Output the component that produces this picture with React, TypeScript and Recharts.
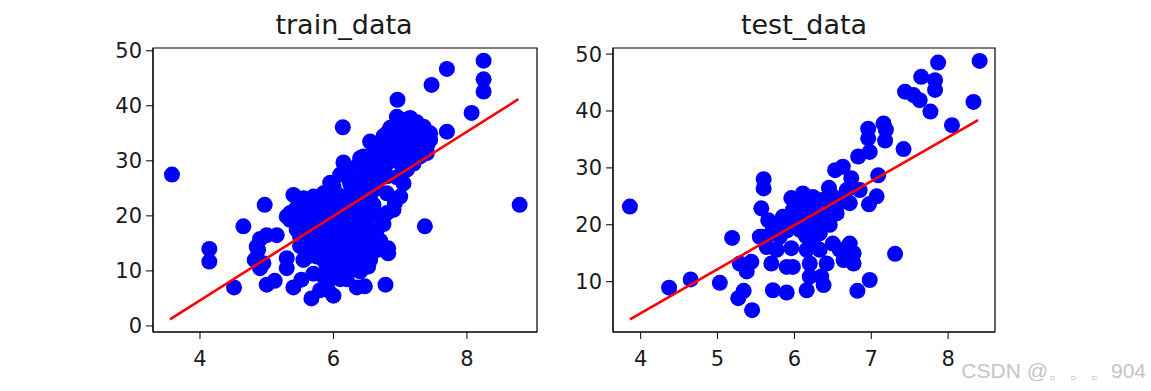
import { ReferenceArea, Scatter, ScatterChart, XAxis, YAxis } from 'recharts';

const trainX = [
  3.58, 8.79, 8.25, 8.25, 8.25, 7.7, 7.47, 8.07, 6.96, 7.7, 6.14, 7.37, 4.14, 4.14, 4.65, 4.97,
  4.51, 5.0, 5.12, 5.4, 5.52, 5.67, 6.0, 6.35, 6.47, 6.78, 5.4, 6.15, 4.9, 4.87, 4.9, 5.15,
  5.3, 5.3, 6.82, 6.82, 6.65, 7.0, 6.92, 5.35, 5.55, 5.97, 6.52, 6.4, 6.25, 5.92, 5.8, 4.95,
  4.82, 4.85, 5.0, 5.3, 7.15, 7.35, 7.45, 7.4, 7.0, 6.8, 6.6, 6.45, 6.35, 6.2, 6.0, 5.85,
  5.7, 5.55, 5.37, 5.35, 5.5, 5.65, 5.55, 5.75, 5.9, 6.1, 6.4, 6.65, 6.6, 6.7, 6.9, 7.05,
  7.1, 7.3, 7.2, 6.9, 6.7, 6.5, 6.3, 6.1, 5.9, 5.7, 6.0, 6.2, 6.4, 6.6, 6.8, 7.0,
  7.2, 7.1, 6.4, 6.2, 6.0, 5.8, 6.4, 6.55, 6.8, 6.15, 5.65, 5.5, 5.8, 5.6, 6.05, 6.25,
  6.5, 6.7, 6.85, 6.97, 7.25, 7.4, 7.35, 6.1, 6.3, 5.95, 6.05, 6.25, 6.45, 6.55, 6.65, 6.9,
  7.05, 6.75, 6.35, 6.55, 5.85, 6.05, 6.2, 5.6, 5.7, 5.75, 5.8, 5.85, 5.9, 5.95, 6.0, 6.0,
  6.05, 6.1, 6.1, 6.15, 6.2, 6.2, 6.25, 6.3, 6.3, 6.35, 6.4, 6.45, 6.5, 6.5, 6.6, 6.6,
  6.65, 6.7, 6.75, 6.8, 6.85, 6.9, 6.95, 7.0, 7.05, 7.1, 7.15, 7.2, 7.25, 5.75, 5.85, 5.9,
  6.0, 6.1, 6.3, 6.25, 6.45, 6.5, 6.35, 5.65, 5.6, 5.5, 5.45, 5.45, 5.5, 5.65, 5.95, 6.1,
  6.3, 6.4, 6.55, 6.75, 6.95, 7.3, 7.1, 7.45, 6.8, 6.75, 6.7, 6.6, 6.45, 5.7, 5.85, 6.1,
];
const trainY = [
  27.5, 22.0, 48.2, 44.8, 42.6, 46.7, 43.8, 38.7, 41.1, 35.3, 36.1, 18.1, 14.0, 11.7, 18.1, 22.0,
  7.0, 7.5, 8.2, 7.0, 8.4, 5.0, 5.5, 7.0, 7.2, 7.5, 23.8, 29.7, 15.8, 13.8, 10.5, 16.5,
  12.3, 10.5, 14.1, 13.2, 17.5, 23.5, 22.3, 20.5, 12.0, 8.7, 10.8, 9.9, 10.2, 6.5, 6.5, 11.4,
  12.0, 14.4, 16.5, 19.9, 37.8, 36.2, 33.8, 31.4, 37.1, 35.0, 32.6, 30.8, 29.0, 27.2, 25.3, 24.1,
  23.5, 23.2, 20.5, 19.3, 18.7, 16.9, 14.4, 12.6, 10.8, 11.4, 12.6, 13.8, 16.2, 19.9, 21.1, 25.9,
  28.4, 30.8, 33.2, 32.0, 30.2, 27.2, 24.7, 22.3, 19.9, 17.5, 17.5, 19.9, 22.3, 24.7, 27.2, 29.6,
  32.0, 35.0, 18.7, 15.0, 13.8, 15.0, 15.0, 21.1, 24.1, 12.6, 13.8, 16.2, 21.1, 20.5, 22.9, 25.9,
  29.0, 32.6, 33.8, 36.2, 35.6, 32.6, 33.8, 16.0, 17.0, 16.5, 19.0, 21.5, 20.0, 23.0, 26.0, 30.5,
  31.5, 28.5, 13.5, 12.0, 12.0, 10.0, 8.5, 19.0, 21.5, 19.5, 17.0, 18.5, 22.5, 14.0, 21.0, 15.5,
  24.0, 18.0, 20.5, 23.5, 17.5, 22.0, 19.0, 20.0, 26.5, 23.5, 25.0, 17.5, 19.5, 25.5, 22.0, 28.0,
  30.5, 27.0, 31.0, 29.5, 36.0, 34.5, 27.0, 33.0, 34.5, 30.0, 33.5, 29.5, 37.0, 14.0, 16.0, 13.0,
  12.0, 14.0, 11.5, 13.8, 14.0, 16.5, 16.0, 15.5, 12.5, 14.5, 17.5, 21.5, 22.0, 22.5, 26.0, 27.5,
  28.5, 30.5, 33.5, 34.5, 38.0, 35.0, 37.5, 35.0, 20.5, 18.5, 15.5, 14.5, 11.5, 9.5, 9.0, 8.5,
];

const testX = [
  3.86, 4.37, 4.65, 5.03, 5.19, 5.27, 5.34, 5.45, 5.38, 5.44, 5.29, 5.6, 5.6, 5.57, 5.59, 5.66,
  5.72, 5.9, 6.16, 6.38, 6.82, 6.98, 7.31, 5.7, 5.9, 5.98, 5.96, 6.2, 6.2, 6.42, 6.5, 6.59,
  6.72, 6.77, 6.77, 6.64, 6.33, 6.16, 5.96, 6.11, 6.24, 6.37, 6.5, 6.46, 6.33, 6.16, 5.98, 5.85,
  5.72, 5.55, 5.64, 5.81, 6.07, 6.24, 6.33, 6.53, 6.63, 6.74, 6.68, 6.85, 6.72, 6.83, 6.98, 6.96,
  6.96, 7.16, 7.19, 7.18, 7.42, 7.09, 7.07, 6.97, 8.05, 7.77, 7.44, 7.55, 7.63, 7.65, 7.83, 7.83,
  7.87, 8.33, 8.41, 6.35, 5.77, 6.05, 6.2, 6.3, 6.1, 6.4, 6.0, 5.9, 5.8, 6.15, 6.25, 6.5,
  6.6, 6.45, 6.55, 5.7, 6.35,
];
const testY = [
  23.2, 8.95, 10.4, 9.8, 17.7, 7.1, 8.4, 5.0, 11.8, 13.5, 13.2, 28.0, 26.4, 22.9, 17.9, 20.8,
  8.5, 8.1, 8.5, 9.4, 8.4, 10.3, 14.9, 13.2, 12.6, 12.6, 15.9, 10.9, 13.2, 13.2, 16.7, 15.6,
  16.7, 15.0, 13.2, 13.8, 15.6, 15.6, 24.7, 25.5, 24.9, 24.4, 23.2, 20.0, 21.4, 22.6, 22.6, 21.4,
  19.7, 17.9, 16.1, 17.9, 19.1, 20.3, 18.5, 29.6, 30.2, 28.2, 26.1, 26.1, 23.8, 32.0, 32.8, 36.9,
  35.2, 37.8, 36.7, 34.8, 33.3, 28.7, 25.0, 23.6, 37.5, 39.9, 43.4, 42.8, 41.9, 46.0, 45.4, 43.7,
  48.5, 41.6, 48.8, 10.9, 15.6, 23.5, 23.0, 22.0, 21.0, 21.5, 20.5, 19.0, 19.5, 18.0, 17.5, 25.0,
  24.0, 26.5, 22.0, 18.5, 19.5,
];

// fitted line end points
const trainLineX = [3.55, 8.77];
const trainLineY = [1.2, 41.2];
const testLineX = [3.86, 8.39];
const testLineY = [3.39, 38.4];

const trainXTicks = [4, 6, 8];
const trainYTicks = [0, 10, 20, 30, 40, 50];
const testXTicks = [4, 5, 6, 7, 8];
const testYTicks = [10, 20, 30, 40, 50];

const zip = (xs: number[], ys: number[]) => xs.map((x, i) => ({ x, y: ys[i] }));

const FONT = '"DejaVu Sans", sans-serif';
const tickStyle = { fontSize: 21, fill: '#1a1a1a', fontFamily: FONT };

const Dot = (p: any) => <circle cx={p.cx} cy={p.cy} r={8} fill="#0000ff" />;
const NoDot = () => <g />;

interface PanelProps {
  left: number;
  marginRight: number;
  xs: number[];
  ys: number[];
  lineX: number[];
  lineY: number[];
  xDomain: [number, number];
  yDomain: [number, number];
  xTicks: number[];
  yTicks: number[];
}

const Panel = (p: PanelProps) => {
  return (
    <div style={{ position: 'absolute', left: p.left, top: 0 }}>
      <ScatterChart
        width={460}
        height={391}
        margin={{ top: 48, right: p.marginRight, bottom: 19, left: 0 }}
      >
        <XAxis
          type="number"
          dataKey="x"
          domain={p.xDomain}
          ticks={p.xTicks}
          allowDataOverflow
          height={40}
          stroke="#000"
          tickSize={7}
          tickMargin={12}
          tick={tickStyle}
        />
        <YAxis
          type="number"
          dataKey="y"
          domain={p.yDomain}
          ticks={p.yTicks}
          allowDataOverflow
          width={63}
          stroke="#000"
          tickSize={7}
          tickMargin={4}
          tick={tickStyle}
        />
        <Scatter data={zip(p.xs, p.ys)} shape={Dot} isAnimationActive={false} />
        <Scatter
          data={zip(p.lineX, p.lineY)}
          line={{ stroke: '#ff0000', strokeWidth: 2.6 }}
          shape={NoDot}
          isAnimationActive={false}
        />
        <ReferenceArea
          x1={p.xDomain[0]}
          x2={p.xDomain[1]}
          y1={p.yDomain[0]}
          y2={p.yDomain[1]}
          fill="none"
          fillOpacity={0}
          stroke="#000"
          strokeWidth={1.2}
          ifOverflow="visible"
        />
      </ScatterChart>
    </div>
  );
};

export default function App() {
  return (
    <div style={{ position: 'absolute', left: 0, top: 0, width: 1151, height: 391, background: '#fff' }}>
      <Panel
        left={90}
        marginRight={13}
        xs={trainX}
        ys={trainY}
        lineX={trainLineX}
        lineY={trainLineY}
        xDomain={[3.296, 9.05]}
        yDomain={[-1.1, 50.5]}
        xTicks={trainXTicks}
        yTicks={trainYTicks}
      />
      <Panel
        left={550}
        marginRight={15}
        xs={testX}
        ys={testY}
        lineX={testLineX}
        lineY={testLineY}
        xDomain={[3.64, 8.61]}
        yDomain={[1.16, 51.07]}
        xTicks={testXTicks}
        yTicks={testYTicks}
      />
      <svg width={1151} height={391} style={{ position: 'absolute', left: 0, top: 0, pointerEvents: 'none' }}>
        <text x={344} y={34} textAnchor="middle" fontSize={27} fontFamily={FONT} fill="#1a1a1a">
          train_data
        </text>
        <text x={804} y={34} textAnchor="middle" fontSize={27} fontFamily={FONT} fill="#1a1a1a">
          test_data
        </text>
        <text x={1146} y={378} textAnchor="end" fontSize={21} fontFamily='"Liberation Sans", Arial, sans-serif' fill="#c4c4c4">
          CSDN @。。。904
        </text>
      </svg>
    </div>
  );
}
